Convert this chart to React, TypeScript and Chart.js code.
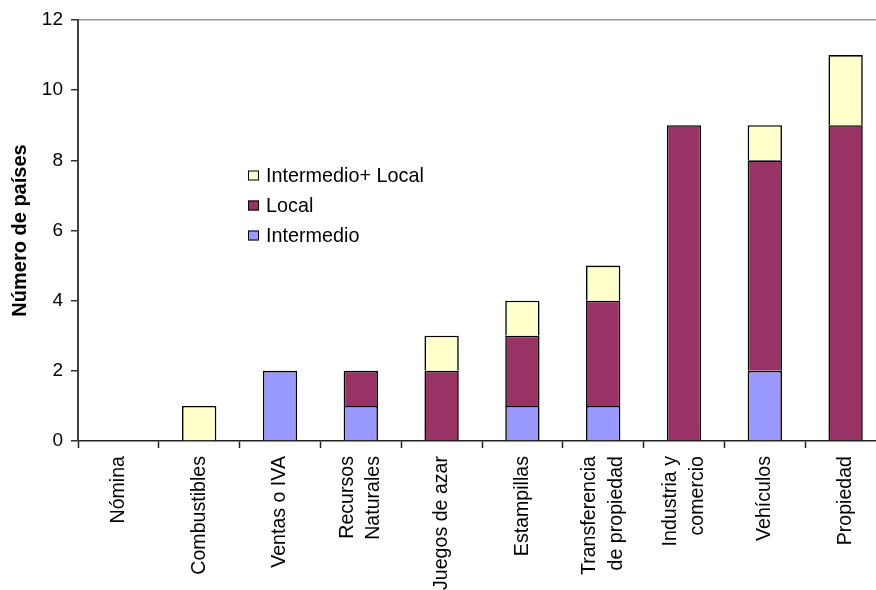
import React, { useEffect, useRef } from "react";
import { Chart, registerables } from "chart.js";

Chart.register(...registerables);

// Tax categories (multi-line labels), bottom axis
const categories: string[][] = [
  ["Nómina"],
  ["Combustibles"],
  ["Ventas o IVA"],
  ["Recursos", "Naturales"],
  ["Juegos de azar"],
  ["Estampillas"],
  ["Transferencia", "de propiedad"],
  ["Industria y", "comercio"],
  ["Vehículos"],
  ["Propiedad"],
];

// Number of countries per government level
const intermedio = [0, 0, 2, 1, 0, 1, 1, 0, 2, 0];
const local = [0, 0, 0, 1, 2, 2, 3, 9, 6, 9];
const intermedioLocal = [0, 1, 0, 0, 1, 1, 1, 0, 1, 2];

const yMin = 0;
const yMax = 12;
const yStep = 2;

const FONT = '"Liberation Sans", Arial, Helvetica, sans-serif';

const asBars = (arr: number[]) => arr.map((v) => (v === 0 ? null : v));

// Rotated, block-centred category labels below the x axis
const categoryLabelPlugin = {
  id: "categoryLabels",
  afterDraw(chart: any) {
    const xs = chart.scales.x;
    const ctx = chart.ctx;
    const lh = 26.5;
    ctx.save();
    ctx.font = `19.6px ${FONT}`;
    ctx.fillStyle = "#000";
    ctx.textAlign = "right";
    ctx.textBaseline = "middle";
    (chart.data.labels as string[][]).forEach((lines, i) => {
      const x = xs.getPixelForValue(i);
      ctx.save();
      ctx.translate(x, xs.top + 15);
      ctx.rotate(-Math.PI / 2);
      lines.forEach((ln, j) => {
        ctx.fillText(ln, 0, (j - (lines.length - 1) / 2) * lh);
      });
      ctx.restore();
    });
    ctx.restore();
  },
};

// Legend box inside the plot area, top series first
const innerLegendPlugin = {
  id: "innerLegend",
  afterDraw(chart: any) {
    const ctx = chart.ctx;
    const ds = [...chart.data.datasets].reverse();
    const x0 = 248;
    const baseline0 = 181.5;
    const rowGap = 30;
    ctx.save();
    ctx.font = `19.8px ${FONT}`;
    ctx.textAlign = "left";
    ctx.textBaseline = "alphabetic";
    ds.forEach((d: any, i: number) => {
      const by = baseline0 + i * rowGap;
      ctx.fillStyle = d.backgroundColor;
      ctx.fillRect(x0, by - 11, 11, 10);
      ctx.strokeStyle = "#000";
      ctx.lineWidth = 1;
      ctx.strokeRect(x0 + 0.5, by - 10.5, 10, 9);
      ctx.fillStyle = "#000";
      ctx.fillText(d.label, x0 + 18, by);
    });
    ctx.restore();
  },
};

export default function App() {
  const canvasRef = useRef<HTMLCanvasElement | null>(null);

  useEffect(() => {
    if (!canvasRef.current) return;
    Chart.defaults.font.family = FONT;
    const chart = new Chart(canvasRef.current, {
      type: "bar",
      data: {
        labels: categories,
        datasets: [
          {
            label: "Intermedio",
            data: asBars(intermedio),
            backgroundColor: "#9999FF",
            borderColor: "#000",
            borderWidth: 1.6,
          },
          {
            label: "Local",
            data: asBars(local),
            backgroundColor: "#993366",
            borderColor: "#000",
            borderWidth: 1.6,
          },
          {
            label: "Intermedio+ Local",
            data: asBars(intermedioLocal),
            backgroundColor: "#FFFFCC",
            borderColor: "#000",
            borderWidth: 1.6,
          },
        ],
      },
      options: {
        responsive: false,
        animation: false,
        devicePixelRatio: 1,
        layout: { padding: { top: 20, right: 4, left: 0, bottom: 0 } },
        datasets: {
          bar: { categoryPercentage: 1, barPercentage: 0.425 },
        },
        plugins: {
          legend: { display: false },
          tooltip: { enabled: false },
        },
        scales: {
          x: {
            stacked: true,
            offset: true,
            grid: {
              offset: true,
              drawOnChartArea: false,
              drawTicks: true,
              tickLength: 7,
              tickColor: "#222",
              tickWidth: 1.5,
            },
            border: { color: "#222", width: 1.5 },
            ticks: { display: false },
            afterFit(scale: any) {
              scale.height = 149;
            },
          },
          y: {
            stacked: true,
            min: yMin,
            max: yMax,
            ticks: {
              stepSize: yStep,
              color: "#000",
              font: { size: 19 },
              padding: 8,
            },
            grid: {
              color: (c: any) => (c.tick && c.tick.value === yMax ? "#999" : "rgba(0,0,0,0)"),
              lineWidth: 1.5,
              tickLength: 7,
              tickColor: "#333",
              tickWidth: 1.5,
            },
            border: { color: "#404040", width: 2 },
            title: {
              display: true,
              text: "Número de países",
              color: "#000",
              font: { size: 20, weight: "bold" },
              padding: { top: 8, bottom: 0 },
            },
            afterFit(scale: any) {
              scale.width = 78;
            },
          },
        },
      },
      plugins: [categoryLabelPlugin, innerLegendPlugin],
    });
    return () => chart.destroy();
  }, []);

  return (
    <div
      style={{
        position: "fixed",
        left: 0,
        top: 0,
        width: 876,
        height: 590,
        overflow: "hidden",
        background: "#fff",
      }}
    >
      <canvas
        ref={canvasRef}
        width={890}
        height={590}
        style={{ width: 890, height: 590, display: "block" }}
      />
    </div>
  );
}
